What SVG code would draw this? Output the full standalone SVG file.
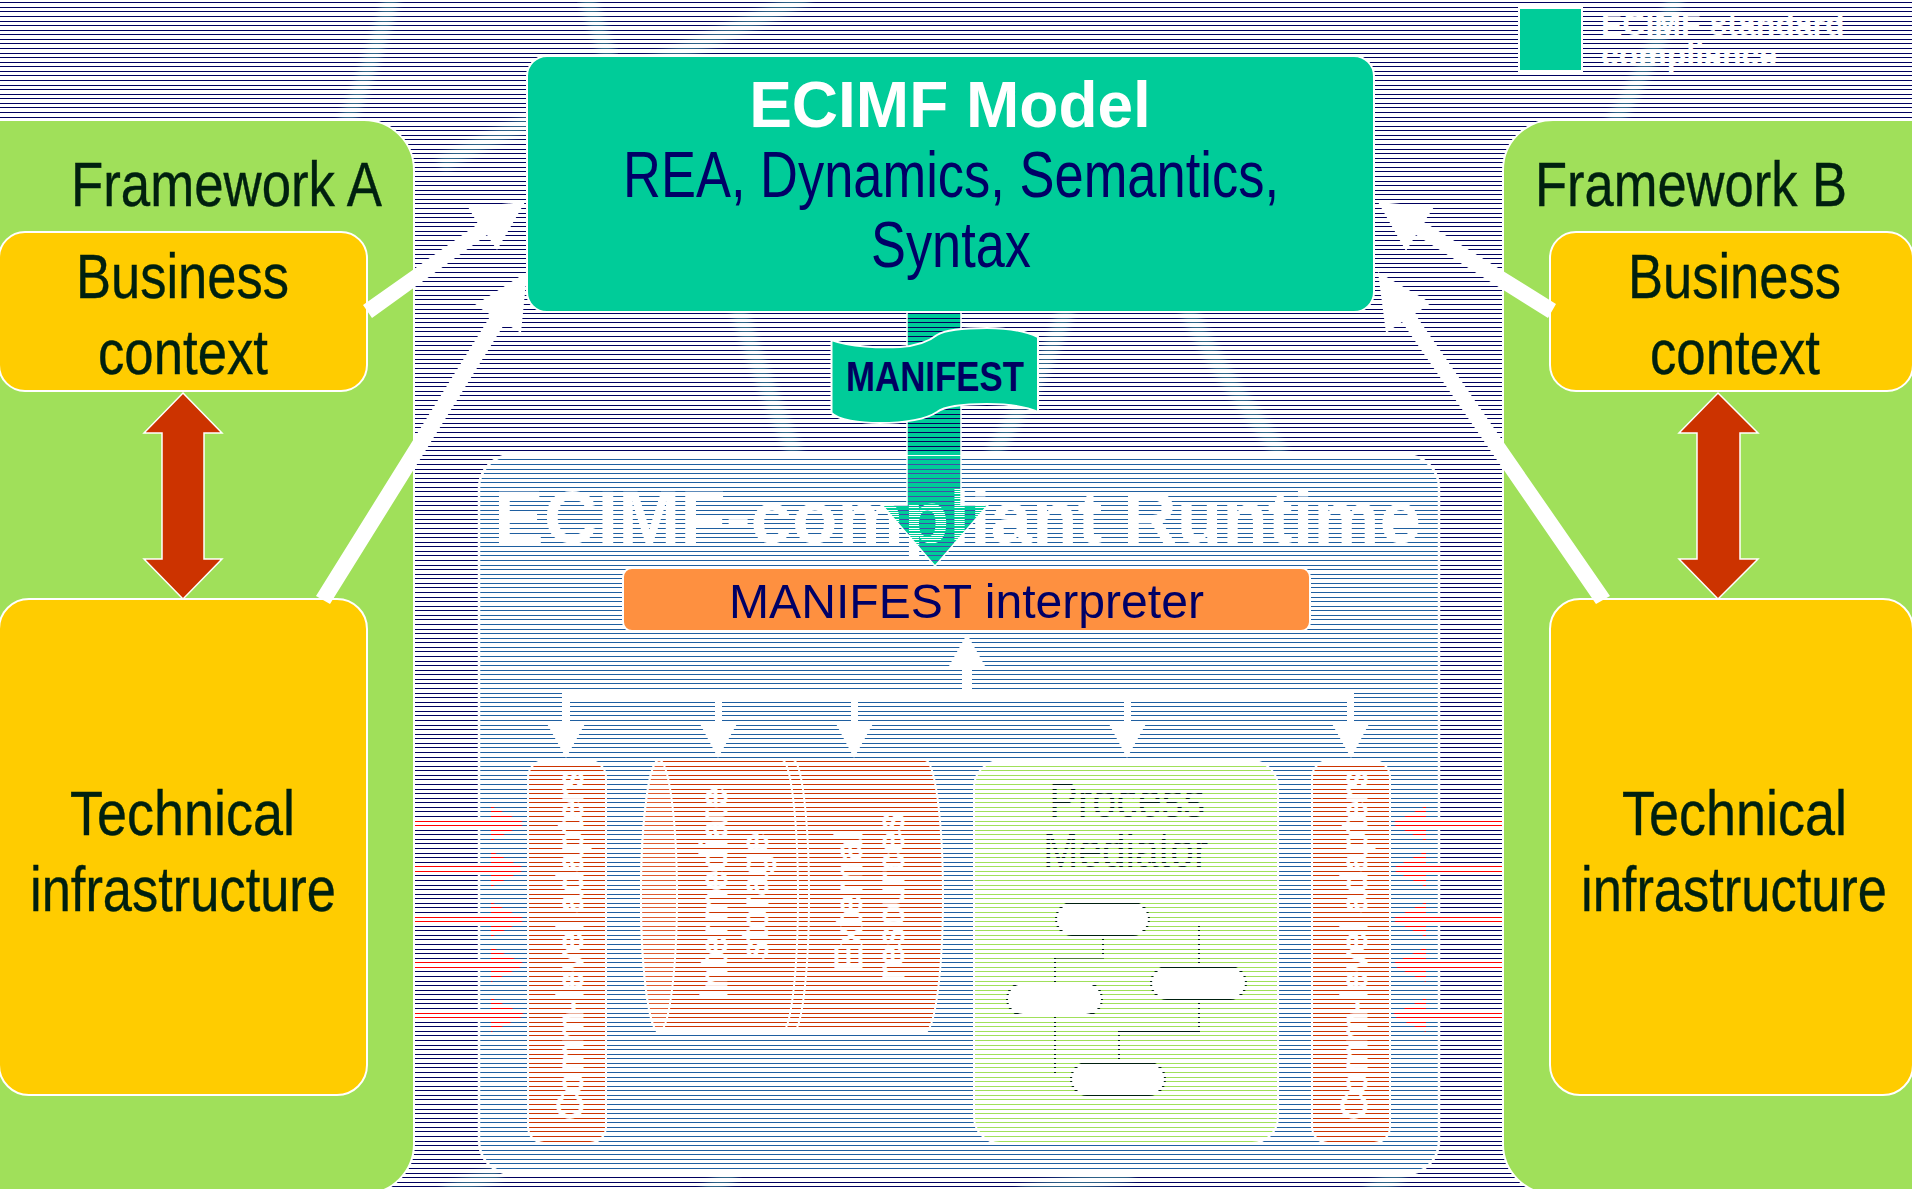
<svg xmlns="http://www.w3.org/2000/svg" width="1912" height="1189" viewBox="0 0 1912 1189">
<style>
text{font-family:"Liberation Sans",Arial,sans-serif}
.dk{fill:#00200f;font-size:63px;stroke:#00200f;stroke-width:.4}
.nv{fill:#000066}
.ad{fill:#fff;font-size:37px;stroke:#fff;stroke-width:1}
.sto{fill:#fff;font-size:38px;text-anchor:middle;stroke:#fff;stroke-width:.8}
.ghost{fill:none;stroke:#4fa5a5;stroke-width:17;stroke-linecap:butt;opacity:.6;filter:url(#soft)}
.panel{fill:#a0e05a;stroke:#fff;stroke-width:2}
.yel{fill:#ffcc00;stroke:#fff;stroke-width:2}
.comp{fill:#cc3300;stroke:#fff;stroke-width:2}
.pill{fill:#fff;stroke:#00200f;stroke-width:2}
.flow{fill:none;stroke:#00200f;stroke-width:2}
.wh{fill:#fff}
.red{fill:#ff0000}
.dbl{fill:#cc3300;stroke:#fff;stroke-width:1.5}
</style>
<defs>
<filter id="soft" x="-30%" y="-30%" width="160%" height="160%"><feGaussianBlur stdDeviation="3"/></filter>
<pattern id="rowsMask" patternUnits="userSpaceOnUse" width="32" height="32">
<path shape-rendering="crispEdges" fill="#fff" d="M0 0h32v2H0zM0 3h32v4H0zM0 8h32v3H0zM0 12h32v4H0zM0 17h32v4H0zM0 22h32v3H0zM0 26h32v4H0zM0 31h32v1H0z"/>
</pattern>
<pattern id="tealRows" patternUnits="userSpaceOnUse" width="32" height="32">
<path shape-rendering="crispEdges" fill="#00cc99" d="M0 0h32v2H0zM0 3h32v4H0zM0 8h32v3H0zM0 12h32v4H0zM0 17h32v4H0zM0 22h32v3H0zM0 26h32v4H0zM0 31h32v1H0z"/>
</pattern>
<pattern id="titleRows" patternUnits="userSpaceOnUse" width="32" height="32">
<path shape-rendering="crispEdges" fill="#fff" d="M0 2h32v1H0zM0 7h32v1H0zM0 11h32v1H0zM0 16h32v1H0zM0 21h32v1H0zM0 25h32v1H0zM0 30h32v1H0zM0 4h32v1H0zM0 9h32v1H0zM0 13h32v1H0zM0 18h32v1H0zM0 23h32v1H0zM0 27h32v1H0zM0 0h32v1H0z"/>
</pattern>
</defs>
<rect width="1912" height="1189" fill="#fff"/>
<g id="backdrop">
<rect width="1912" height="1189" fill="#00005e"/>
<path class="ghost" d="M394 -10C380 40 365 80 345 125"/>
<path class="ghost" d="M585 -10C592 15 600 35 610 60"/>
<path class="ghost" d="M808 -5C740 30 680 50 640 70C590 100 500 130 440 165"/>
<path class="ghost" d="M1677 -5C1660 40 1640 80 1612 125"/>
<path class="ghost" d="M737 305C755 360 775 410 796 455"/>
<path class="ghost" d="M1068 305C1050 360 1020 410 992 455"/>
<path class="ghost" d="M1186 305C1210 360 1250 410 1282 455"/>
<path class="ghost" d="M445 1195C460 1185 480 1180 500 1172"/>
<path class="ghost" d="M705 1195C715 1185 725 1180 733 1172"/>
<path class="ghost" d="M1020 1195C1050 1185 1100 1182 1132 1172"/>
<path class="ghost" d="M1368 1195C1380 1185 1392 1180 1402 1172"/>
</g>
<g id="runtime">
<rect x="479" y="455" width="960" height="719" rx="33" fill="#1f5fa0" stroke="#fff" stroke-width="2.5"/>
<path d="M907 456H961V505H988L935 566L882 505H907Z" fill="#3d4fa8"/>
</g>
<g id="legend-text">
<text x="1601" y="35" font-size="32" font-weight="bold" fill="#fff">ECIMF standard</text>
<text x="1601" y="66" font-size="32" font-weight="bold" fill="#fff">compliance</text>
</g>
<g id="connectors-runtime">
<path class="red" d="M414 820H491V806L526 823.5L491 841V827H414Z"/>
<path class="red" d="M414 865.5H491V851L526 869L491 887V872.5H414Z"/>
<path class="red" d="M414 916H491V902L526 919.5L491 937V923H414Z"/>
<path class="red" d="M414 961H491V947L526 964.5L491 982V968H414Z"/>
<path class="red" d="M414 1011.5H491V998L526 1015L491 1032V1018.500H414Z"/>
<path class="red" d="M1503 820H1426V806L1391 823.5L1426 841V827H1503Z"/>
<path class="red" d="M1503 865.5H1426V851L1391 869L1426 887V872.5H1503Z"/>
<path class="red" d="M1503 916H1426V902L1391 919.5L1426 937V923H1503Z"/>
<path class="red" d="M1503 961H1426V947L1391 964.5L1426 982V968H1503Z"/>
<path class="red" d="M1503 1011.5H1426V998L1391 1015L1426 1032V1018.500H1503Z"/>
<path class="wh" d="M967 634L985 666H972V690H1354V722H1370L1351 758L1331 722H1347V700H1131V722H1147L1127 758L1108 722H1124V700H858V722H874L854 758L835 722H851V700H722V722H738L718 758L699 722H715V700H570V722H586L566 758L546 722H562V690H962V666H949Z"/>
</g>
<g id="comm-adapters-left">
<rect class="comp" x="528" y="761" width="78" height="382" rx="16"/>
<text class="ad" transform="translate(583 1120) rotate(-90)" textLength="350" lengthAdjust="spacingAndGlyphs">Comm-level adapters</text>
</g>
<g id="storage">
<path class="comp" d="M659 760H925A18 136 0 0 1 925 1032H659A18 136 0 0 1 659 760Z"/>
<ellipse cx="659" cy="896" rx="18" ry="136" fill="#dd5a30" stroke="#fff" stroke-width="2"/>
<path d="M782 760A16 136 0 0 1 782 1032M793 760A16 136 0 0 1 793 1032" fill="none" stroke="#fff" stroke-width="2"/>
<text class="sto" transform="translate(727 893) rotate(-90)">Intermediate</text>
<text class="sto" transform="translate(768 896) rotate(-90)">storage</text>
<text class="sto" transform="translate(862 901) rotate(-90)">External</text>
<text class="sto" transform="translate(904 896) rotate(-90)">resources</text>
</g>
<g id="process-mediator">
<rect x="974" y="761" width="304" height="382" rx="26" fill="#a0e05a" stroke="#fff" stroke-width="2"/>
<text x="1049" y="817" font-size="50" fill="#00200f" textLength="156" lengthAdjust="spacingAndGlyphs">Process</text>
<text x="1043" y="867" font-size="50" fill="#00200f" textLength="165" lengthAdjust="spacingAndGlyphs">Mediator</text>
<path class="flow" d="M1103 935V957.500H1055V984M1199 922V968M1055 1015V1077M1199 999V1031H1119V1064" stroke-width="1.5"/>
<rect class="pill" x="1056" y="903" width="93" height="32" rx="16"/>
<rect class="pill" x="1151" y="967" width="95" height="32" rx="16"/>
<rect class="pill" x="1007" y="983" width="95" height="32" rx="16"/>
<rect class="pill" x="1071" y="1063" width="94" height="32" rx="16"/>
</g>
<g id="comm-adapters-right">
<rect class="comp" x="1312" y="761" width="78" height="382" rx="16"/>
<text class="ad" transform="translate(1367 1120) rotate(-90)" textLength="350" lengthAdjust="spacingAndGlyphs">Comm-level adapters</text>
</g>
<rect id="row-mask" width="1912" height="1189" fill="url(#rowsMask)"/>
<g id="framework-a">
<rect class="panel" x="-80" y="120" width="494" height="1074" rx="50"/>
<text class="dk" x="71" y="206" textLength="311" lengthAdjust="spacingAndGlyphs">Framework A</text>
</g>
<g id="framework-b">
<rect class="panel" x="1503" y="120" width="490" height="1074" rx="50"/>
<text class="dk" x="1535" y="206" textLength="312" lengthAdjust="spacingAndGlyphs">Framework B</text>
</g>
<g id="business-a">
<rect class="yel" x="-1" y="232" width="368" height="159" rx="26"/>
<text class="dk" x="76" y="298" textLength="213" lengthAdjust="spacingAndGlyphs">Business</text>
<text class="dk" x="98" y="374" textLength="170" lengthAdjust="spacingAndGlyphs">context</text>
</g>
<g id="technical-a">
<rect class="yel" x="-1" y="599" width="368" height="496" rx="30"/>
<text class="dk" x="70" y="835" textLength="225" lengthAdjust="spacingAndGlyphs">Technical</text>
<text class="dk" x="30" y="911" textLength="306" lengthAdjust="spacingAndGlyphs">infrastructure</text>
</g>
<g id="business-b">
<rect class="yel" x="1550" y="232" width="363" height="159" rx="26"/>
<text class="dk" x="1628" y="298" textLength="213" lengthAdjust="spacingAndGlyphs">Business</text>
<text class="dk" x="1650" y="374" textLength="170" lengthAdjust="spacingAndGlyphs">context</text>
</g>
<g id="technical-b">
<rect class="yel" x="1550" y="599" width="363" height="496" rx="30"/>
<text class="dk" x="1622" y="835" textLength="225" lengthAdjust="spacingAndGlyphs">Technical</text>
<text class="dk" x="1581" y="911" textLength="306" lengthAdjust="spacingAndGlyphs">infrastructure</text>
</g>
<g id="legend-swatch">
<rect x="1519" y="8" width="63" height="63" fill="#00cc99" stroke="#fff" stroke-width="2"/>
</g>
<g id="connectors">
<path class="dbl" d="M183 393L222 433H204V559H222L183 599L144 559H162V433H144Z"/>
<path class="dbl" d="M1718 393L1758 433H1740V559H1758L1718 599L1679 559H1697V433H1679Z"/>
<path class="wh" d="M363 305L372 318L487 235L497 250L525 202L468 207L478 224Z"/>
<path class="wh" d="M316 596L330 604L505 323L521 333L527 272L475 305L491 315Z"/>
<path class="wh" d="M1556 304L1548 318L1416 235L1406 251L1378 202L1434 207L1424 222Z"/>
<path class="wh" d="M1610 596L1596 604L1402 322L1386 333L1378 272L1431 303L1415 314Z"/>
</g>
<g id="manifest-arrow">
<path d="M907 312H961V505H988L935 566L882 505H907Z" fill="url(#tealRows)" stroke="#fff" stroke-width="1.5"/>
</g>
<g id="runtime-title">
<text x="494" y="543" font-size="74" font-weight="bold" fill="url(#titleRows)" textLength="927" lengthAdjust="spacingAndGlyphs">ECIMF-compliant Runtime</text>
</g>
<g id="ecimf-model">
<rect x="527" y="56" width="847" height="256" rx="20" fill="#00cc99" stroke="#fff" stroke-width="2"/>
<text x="950" y="127" text-anchor="middle" font-size="64" font-weight="bold" fill="#fff">ECIMF Model</text>
<text class="nv" x="623" y="197" font-size="64" textLength="656" lengthAdjust="spacingAndGlyphs">REA, Dynamics, Semantics,</text>
<text class="nv" x="871" y="267" font-size="64" textLength="160" lengthAdjust="spacingAndGlyphs">Syntax</text>
</g>
<g id="manifest-banner">
<path d="M831.500 340C850 347 880 348 900 347C915 346 927 343 937 335C945 330 965 328 987 328C1005 328 1025 331 1038 337V412C1025 406 1005 404 987 404C965 404 945 406 937 412C927 419 905 423 880 423C860 423 838 420 831.500 413Z" fill="#00cc99" stroke="#fff" stroke-width="2"/>
<text x="846" y="391" font-size="42" font-weight="bold" fill="#000060" textLength="178" lengthAdjust="spacingAndGlyphs">MANIFEST</text>
</g>
<g id="manifest-interpreter">
<rect x="623" y="568" width="687" height="63" rx="9" fill="#fe9040" stroke="#fff" stroke-width="2"/>
<text class="nv" x="729" y="618" font-size="48" textLength="475" lengthAdjust="spacingAndGlyphs">MANIFEST interpreter</text>
</g>
</svg>
